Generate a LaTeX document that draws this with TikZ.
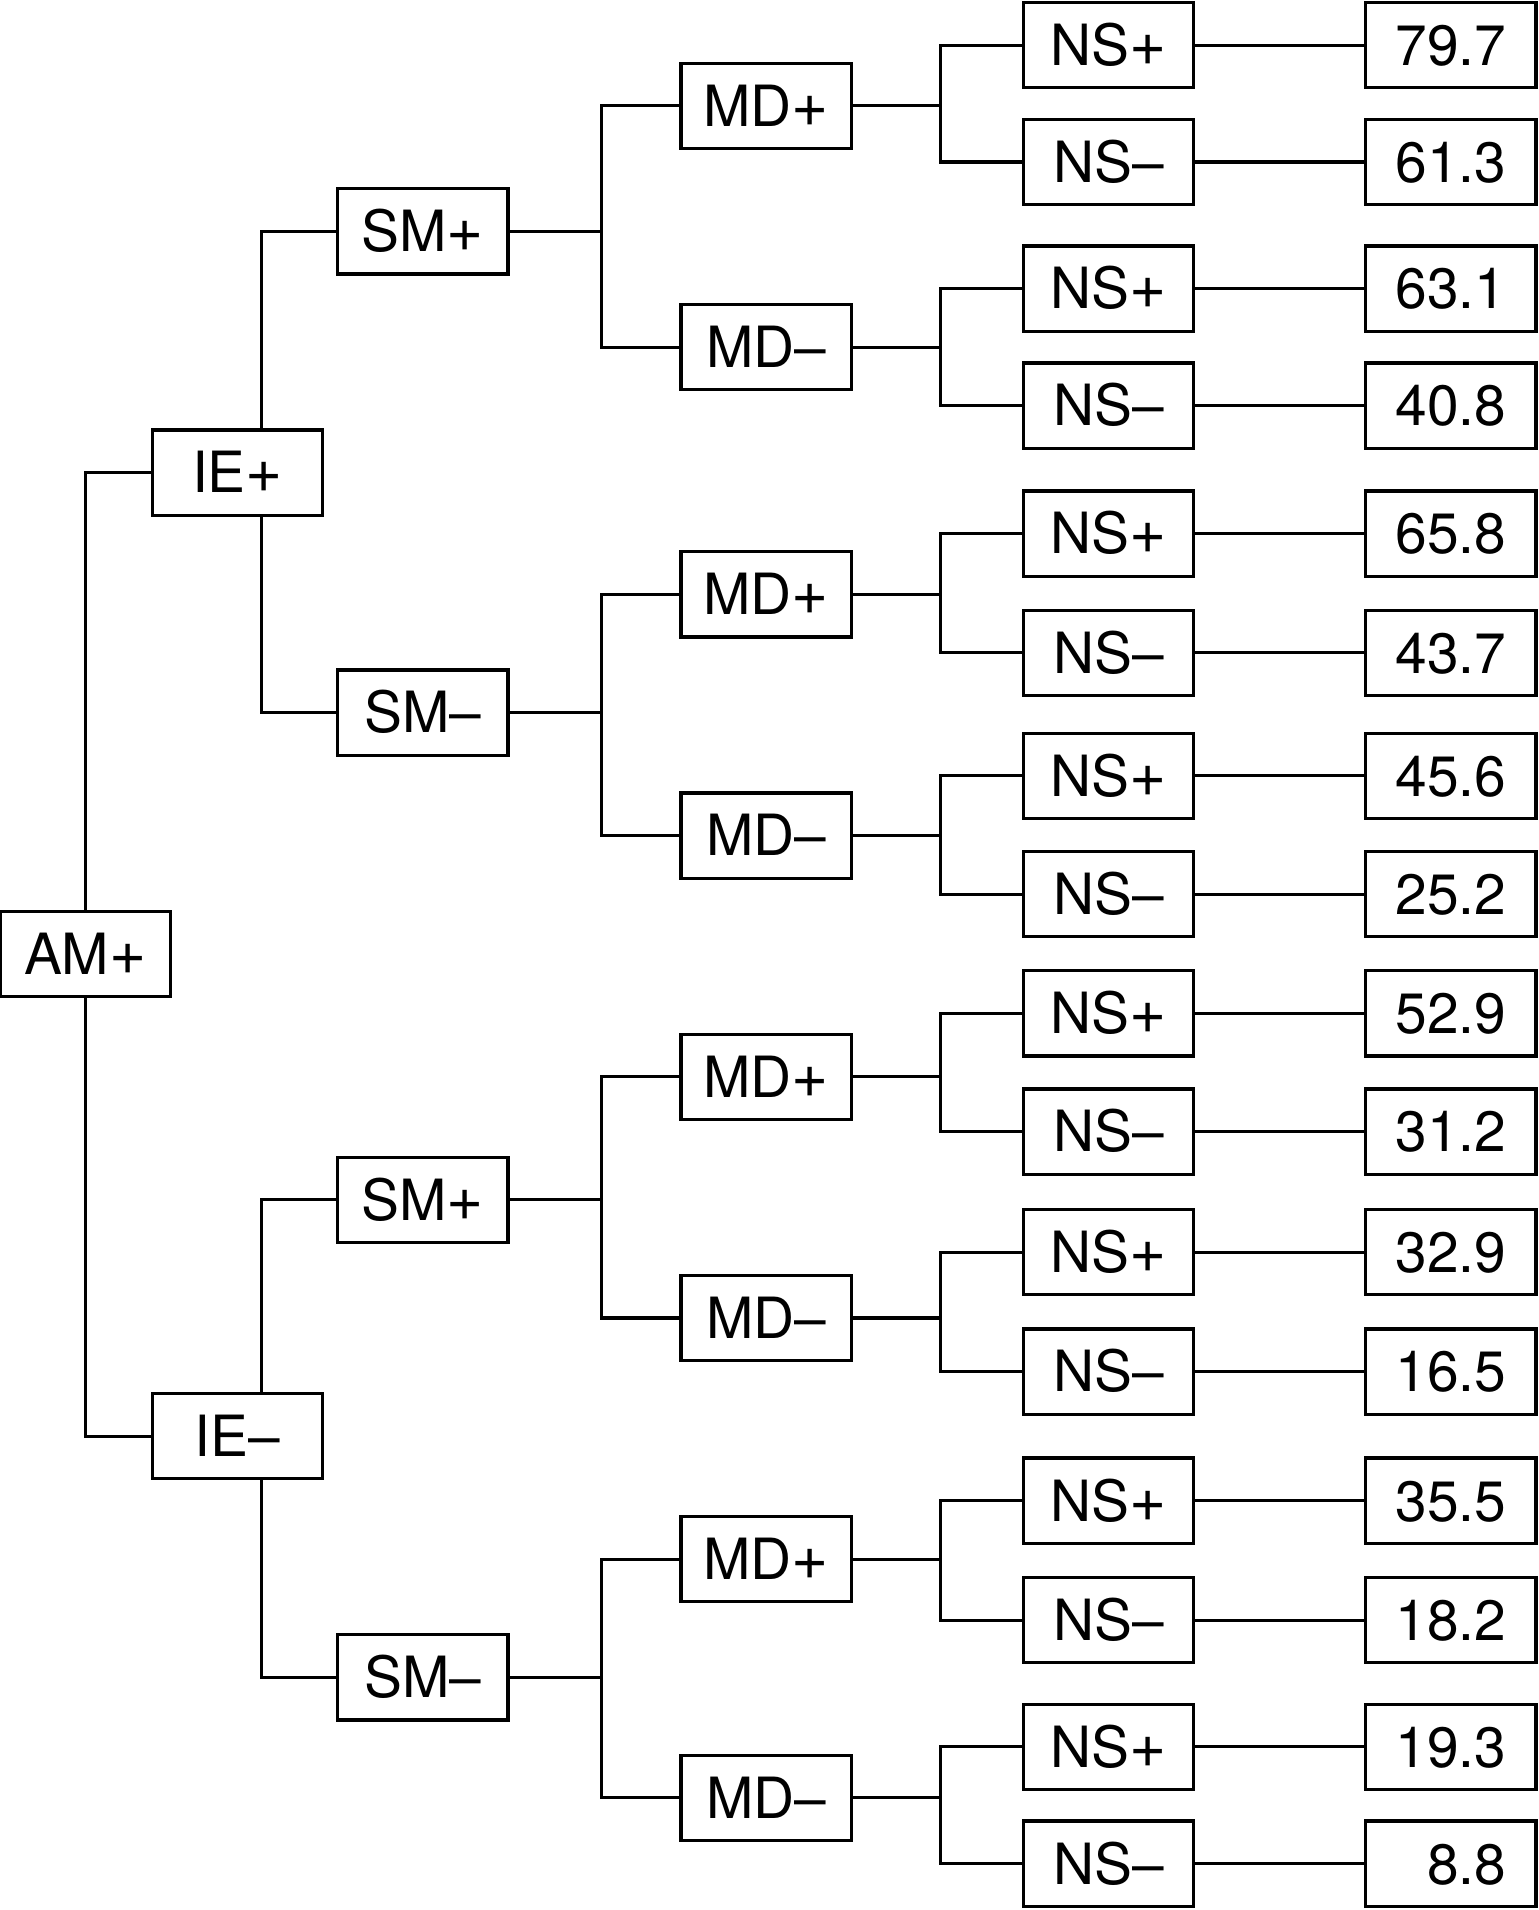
\documentclass[tikz,border=0pt]{standalone}
\usepackage{fontspec}
\setmainfont{TeX Gyre Heros}
\usetikzlibrary{positioning}
\newcommand{\pl}{\scalebox{1.12}{+}}
\tikzset{
  cell/.style={draw,line width=1.6pt,minimum width=84pt,minimum height=42pt,
    inner sep=0pt,text height=20pt,text depth=0pt,
    font=\fontsize{28}{28}\selectfont},
  link/.style={line width=1.5pt}
}

\begin{document}
\begin{tikzpicture}[x=0.6pt,y=-0.6pt]
  \useasboundingbox (0,0) rectangle (1263,1568);
  \coordinate (xa) at (494,0);
  \coordinate (xb) at (772,0);
  % first three levels
  \node[cell] (am) at (70,783) {AM\pl};
  \node[cell] (iep) at (195,388) {IE\pl};
  \node[cell] (iem) at (195,1179) {IE–};
  \node[cell] (smpa) at (347,190) {SM\pl};
  \node[cell] (smma) at (347,585) {SM–};
  \node[cell] (smpb) at (347,985) {SM\pl};
  \node[cell] (smmb) at (347,1377) {SM–};
  \draw[link] (am.north) |- (iep.west);
  \draw[link] (am.south) |- (iem.west);
  \draw[link] ([xshift=12pt]iep.north) |- (smpa.west);
  \draw[link] ([xshift=12pt]iep.south) |- (smma.west);
  \draw[link] ([xshift=12pt]iem.north) |- (smpb.west);
  \draw[link] ([xshift=12pt]iem.south) |- (smmb.west);
  % MD level
  \foreach \i/\y/\s in {1/87/\pl,2/285/–,3/488/\pl,4/686/–,5/884/\pl,6/1082/–,7/1280/\pl,8/1476/–}
    \node[cell] (md\i) at (629,\y) {MD\s};
  \foreach \m/\a/\b in {smpa/1/2,smma/3/4,smpb/5/6,smmb/7/8} {
    \draw[link] (\m.east) -- (\m.east -| xa);
    \draw[link] (md\a.west) -| (\m.east -| xa) |- (md\b.west);
  }
  % NS level and values
  \foreach \i/\y/\s/\v in {1/37/\pl/79.7,2/133/–/61.3,3/237/\pl/63.1,4/333/–/40.8,
      5/438/\pl/65.8,6/536/–/43.7,7/637/\pl/45.6,8/734/–/25.2,
      9/832/\pl/52.9,10/929/–/31.2,11/1028/\pl/32.9,12/1126/–/16.5,
      13/1232/\pl/35.5,14/1330/–/18.2,15/1434/\pl/19.3,16/1530/–/{\phantom{0}8.8}} {
    \node[cell] (ns\i) at (910,\y) {NS\s};
    \node[cell] (v\i) at (1191,\y) {\v};
    \draw[link] (ns\i) -- (v\i);
  }
  \foreach \m/\a/\b in {1/1/2,2/3/4,3/5/6,4/7/8,5/9/10,6/11/12,7/13/14,8/15/16} {
    \draw[link] (md\m.east) -- (md\m.east -| xb);
    \draw[link] (ns\a.west) -| (md\m.east -| xb) |- (ns\b.west);
  }
\end{tikzpicture}
\end{document}
